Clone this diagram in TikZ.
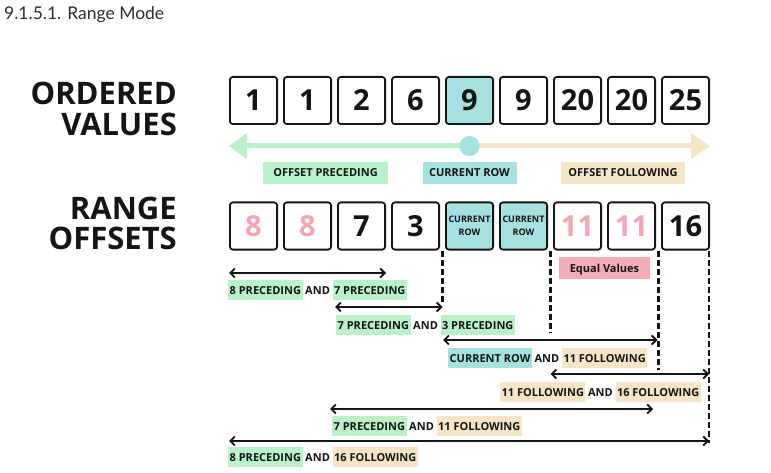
\documentclass[tikz,border=0pt]{standalone}
\usepackage{fontspec}
\setmainfont{Open Sans}
\newfontfamily\latofont{Lato}
\usetikzlibrary{arrows.meta,calc,positioning}
\definecolor{hlgreen}{HTML}{B9F1C9}
\definecolor{hlteal}{HTML}{A5E1E1}
\definecolor{hlbeige}{HTML}{F6E5C5}
\definecolor{hlpink}{HTML}{F3ABB6}
\definecolor{pinktext}{HTML}{F4A6B2}
\definecolor{inkc}{HTML}{151515}
\tikzset{
  vbox/.style={draw=inkc, line width=1.8pt, rounded corners=3pt, minimum width=47.2pt, minimum height=47.2pt,
    inner sep=0pt, font=\fontsize{29}{29}\selectfont\bfseries, text=inkc},
  curbox/.style={vbox, fill=hlteal, font=\fontsize{9}{13}\selectfont\bfseries, align=center},
  curtop/.style={vbox, fill=hlteal},
  pinkval/.style={text=pinktext},
  heading/.style={font=\fontsize{31}{31}\selectfont\bfseries, align=right, text=inkc, inner sep=0pt},
  toplab/.style={font=\fontsize{11}{11}\selectfont\bfseries, text=inkc, minimum height=22pt, inner sep=0pt, text height=8pt, text depth=0pt},
  lab/.style={font=\fontsize{11}{11}\selectfont\bfseries, text=inkc, minimum height=20pt, inner ysep=0pt, inner xsep=1.5pt, text height=8pt, text depth=0pt},
  andlab/.style={lab, inner xsep=2.3pt},
  gl/.style={lab, fill=hlgreen},
  tl/.style={lab, fill=hlteal},
  bl/.style={lab, fill=hlbeige},
  dbl/.style={line width=1.8pt, draw=inkc, {Straight Barb[length=4.5pt,width=9pt]}-{Straight Barb[length=4.5pt,width=9pt]}},
  guide/.style={line width=2.2pt, draw=inkc, dash pattern=on 6pt off 3pt},
}
\begin{document}
\begin{tikzpicture}[x=1pt,y=-1pt]
\useasboundingbox (0,0) rectangle (771,473);
% title
\node[anchor=base west, inner sep=0pt, font=\latofont\fontsize{17.5}{17.5}\selectfont, text=black!82] (title) at (4,20) {9.1.5.1. Range Mode};
% headings
\node[heading, anchor=base east] (h1) at (177,136) {ORDERED\\VALUES};
\node[heading, anchor=base east] (h2) at (177,250) {RANGE\\OFFSETS};
% ordered values
\node[vbox] (t1) at (253.5,100.5) {1};
\node[vbox] (t2) at (307.5,100.5) {1};
\node[vbox] (t3) at (361.5,100.5) {2};
\node[vbox] (t4) at (415.5,100.5) {6};
\node[curtop] (t5) at (469.5,100.5) {9};
\node[vbox] (t6) at (523.5,100.5) {9};
\node[vbox] (t7) at (577.5,100.5) {20};
\node[vbox] (t8) at (631.5,100.5) {20};
\node[vbox] (t9) at (685.5,100.5) {25};
% range offsets
\node[vbox, pinkval] (b1) at (253.5,226) {8};
\node[vbox, pinkval] (b2) at (307.5,226) {8};
\node[vbox] (b3) at (361.5,226) {7};
\node[vbox] (b4) at (415.5,226) {3};
\node[curbox] (b5) at (469.5,226) {CURRENT\\ROW};
\node[curbox] (b6) at (523.5,226) {CURRENT\\ROW};
\node[vbox, pinkval] (b7) at (577.5,226) {11};
\node[vbox, pinkval] (b8) at (631.5,226) {11};
\node[vbox] (b9) at (685.5,226) {16};
% direction arrow
\coordinate (ltip) at (t1.west |- 0,146);
\coordinate (rtip) at (t9.east |- 0,146);
\coordinate (mid) at (t5.center |- 0,146);
\draw[hlgreen, line width=5pt] ($(ltip)+(15,0)$) -- (mid);
\fill[hlgreen] (ltip) -- ++(18,-13) -- ++(0,26) -- cycle;
\draw[hlbeige, line width=5pt] (mid) -- ($(rtip)+(-15,0)$);
\fill[hlbeige] (rtip) -- ++(-19,-13) -- ++(0,26) -- cycle;
\fill[hlteal] (mid) circle (10);
\node[toplab, fill=hlgreen, minimum width=125pt] (op) at (325.5,173) {OFFSET PRECEDING};
\node[toplab, fill=hlteal, minimum width=94pt] (cr) at (mid |- 0,173) {CURRENT ROW};
\node[toplab, fill=hlbeige, minimum width=124pt] (of) at (623,173) {OFFSET FOLLOWING};
% equal values
\node[toplab, fill=hlpink, minimum width=91pt] (eq) at ($(b7.center)!.5!(b8.center)+(0,42)$) {Equal Values};
% guide lines
\coordinate (g45) at ($(b4.south east)!.5!(b5.south west)$);
\coordinate (g67) at ($(b6.south east)!.5!(b7.south west)$);
\coordinate (g89) at ($(b8.south east)!.5!(b9.south west)$);
\coordinate (g9) at ($(b9.south east)+(-1,0)$);
\draw[guide] (g45) -- (g45 |- 0,304);
\draw[guide] (g67) -- (g67 |- 0,332);
\draw[guide] (g89) -- (g89 |- 0,370);
\draw[guide] (g9) -- (g9 |- 0,443);
% range arrows
\draw[dbl] (b1.west |- 0,273) -- (b3.east |- 0,273);
\draw[dbl] ($(b3.west |- 0,307)+(-2,0)$) -- (g45 |- 0,307);
\draw[dbl] ($(b5.west |- 0,340)+(-2,0)$) -- ($(g89 |- 0,340)+(-1,0)$);
\draw[dbl] (g67 |- 0,374) -- (g9 |- 0,374);
\draw[dbl] ($(b3.west |- 0,409)+(-7,0)$) -- ($(b8.east |- 0,409)+(-3,0)$);
\draw[dbl] (b1.west |- 0,441) -- (g9 |- 0,441);
% range labels
\node[gl, anchor=west] (r1a) at (228,290) {8 PRECEDING};
\node[andlab, right=0pt of r1a] (r1b) {AND};
\node[gl, right=0pt of r1b] (r1c) {7 PRECEDING};
\node[gl, anchor=west] (r2a) at (336,325) {7 PRECEDING};
\node[andlab, right=0pt of r2a] (r2b) {AND};
\node[gl, right=0pt of r2b] (r2c) {3 PRECEDING};
\node[tl, anchor=west] (r3a) at (448,358) {CURRENT ROW};
\node[andlab, right=0pt of r3a] (r3b) {AND};
\node[bl, right=0pt of r3b] (r3c) {11 FOLLOWING};
\node[bl, anchor=west] (r4a) at (500,392) {11 FOLLOWING};
\node[andlab, right=0pt of r4a] (r4b) {AND};
\node[bl, right=0pt of r4b] (r4c) {16 FOLLOWING};
\node[gl, anchor=west] (r5a) at (332,426) {7 PRECEDING};
\node[andlab, right=0pt of r5a] (r5b) {AND};
\node[bl, right=0pt of r5b] (r5c) {11 FOLLOWING};
\node[gl, anchor=west] (r6a) at (228,457) {8 PRECEDING};
\node[andlab, right=0pt of r6a] (r6b) {AND};
\node[bl, right=0pt of r6b] (r6c) {16 FOLLOWING};
\end{tikzpicture}
\end{document}
